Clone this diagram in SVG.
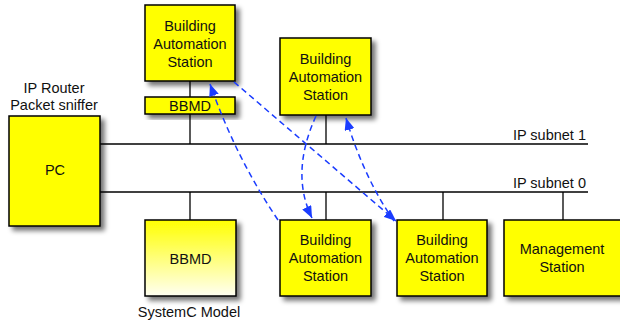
<svg xmlns="http://www.w3.org/2000/svg" width="620" height="327" viewBox="0 0 620 327">
  <defs>
    <filter id="shadow" x="-20%" y="-20%" width="150%" height="150%">
      <feGaussianBlur in="SourceAlpha" stdDeviation="2.5"/>
      <feOffset dx="4" dy="4" result="b"/>
      <feComponentTransfer><feFuncA type="linear" slope="0.55"/></feComponentTransfer>
      <feMerge><feMergeNode/><feMergeNode in="SourceGraphic"/></feMerge>
    </filter>
    <linearGradient id="modelFill" x1="0" y1="0" x2="0" y2="1">
      <stop offset="0" stop-color="#ffff00"/>
      <stop offset="1" stop-color="#fffff2"/>
    </linearGradient>
    <marker id="arrow" viewBox="0 0 12 10" refX="12" refY="5" markerWidth="12" markerHeight="10" markerUnits="userSpaceOnUse" orient="auto">
      <path d="M0,0 L12,5 L0,10 Z" fill="#1a3cff"/>
    </marker>
  </defs>
  <style>
    .box { fill: #ffff00; stroke: #000; stroke-width: 1.5; }
    .model { fill: url(#modelFill); stroke: #000; stroke-width: 1.5; }
    .wire { stroke: #000; stroke-width: 1.3; fill: none; }
    .flow { stroke: #1a3cff; stroke-width: 1.5; stroke-dasharray: 6 4; fill: none; marker-end: url(#arrow); }
    .flow-plain { stroke: #1a3cff; stroke-width: 1.5; stroke-dasharray: 6 4; fill: none; }
    text { font-family: "Liberation Sans", Arial, Helvetica, sans-serif; font-size: 14.5px; fill: #111; text-anchor: middle; }
    .lbl-r { text-anchor: end; }
  </style>

  <!-- network wiring -->
  <g id="connectors">
    <line class="wire" x1="100" y1="144" x2="588" y2="144"/>
    <line class="wire" x1="100" y1="192" x2="588" y2="192"/>
    <line class="wire" x1="190" y1="81" x2="190" y2="97"/>
    <line class="wire" x1="190" y1="114" x2="190" y2="144"/>
    <line class="wire" x1="326" y1="115" x2="326" y2="144"/>
    <line class="wire" x1="190" y1="192" x2="190" y2="220"/>
    <line class="wire" x1="326" y1="192" x2="326" y2="220"/>
    <line class="wire" x1="443" y1="192" x2="443" y2="220"/>
    <line class="wire" x1="563" y1="192" x2="563" y2="220"/>
    <text class="lbl-r" x="586" y="140">IP subnet 1</text>
    <text class="lbl-r" x="586" y="188">IP subnet 0</text>
  </g>

  <!-- nodes -->
  <g id="pc">
    <rect class="box" x="9" y="116" width="91" height="110" filter="url(#shadow)"/>
    <text x="54" y="93">IP Router</text>
    <text x="54" y="110">Packet sniffer</text>
    <text x="55" y="175">PC</text>
  </g>

  <g id="bas-top-left">
    <rect class="box" x="145" y="5" width="90" height="76" filter="url(#shadow)"/>
    <text x="190" y="31">Building</text>
    <text x="190" y="49">Automation</text>
    <text x="190" y="67">Station</text>
  </g>

  <g id="bbmd-router">
    <rect class="box" x="145" y="97" width="90" height="17" filter="url(#shadow)"/>
    <text x="190" y="111">BBMD</text>
  </g>

  <g id="bas-top-right">
    <rect class="box" x="280" y="38" width="91" height="77" filter="url(#shadow)"/>
    <text x="325.5" y="64">Building</text>
    <text x="325.5" y="82">Automation</text>
    <text x="325.5" y="100">Station</text>
  </g>

  <g id="bbmd-model">
    <rect class="model" x="145" y="220" width="91" height="76" filter="url(#shadow)"/>
    <text x="190.5" y="264">BBMD</text>
    <text x="189" y="317">SystemC Model</text>
  </g>

  <g id="bas-bottom-1">
    <rect class="box" x="280" y="220" width="91" height="76" filter="url(#shadow)"/>
    <text x="325.5" y="245">Building</text>
    <text x="325.5" y="263">Automation</text>
    <text x="325.5" y="281">Station</text>
  </g>

  <g id="bas-bottom-2">
    <rect class="box" x="397" y="220" width="90" height="76" filter="url(#shadow)"/>
    <text x="442" y="245">Building</text>
    <text x="442" y="263">Automation</text>
    <text x="442" y="281">Station</text>
  </g>

  <g id="management-station">
    <rect class="box" x="504" y="220" width="118" height="76" filter="url(#shadow)"/>
    <text x="562" y="254">Management</text>
    <text x="562" y="272">Station</text>
  </g>

  <!-- message flows -->
  <g id="flows">
    <path class="flow" d="M278,220 Q236,158 210,84"/>
    <path class="flow" d="M234,82 L396,221"/>
    <path class="flow" d="M316,116 Q290,173 312,218"/>
    <path class="flow" d="M394,221 Q364,178 346,118"/>
  </g>
</svg>
